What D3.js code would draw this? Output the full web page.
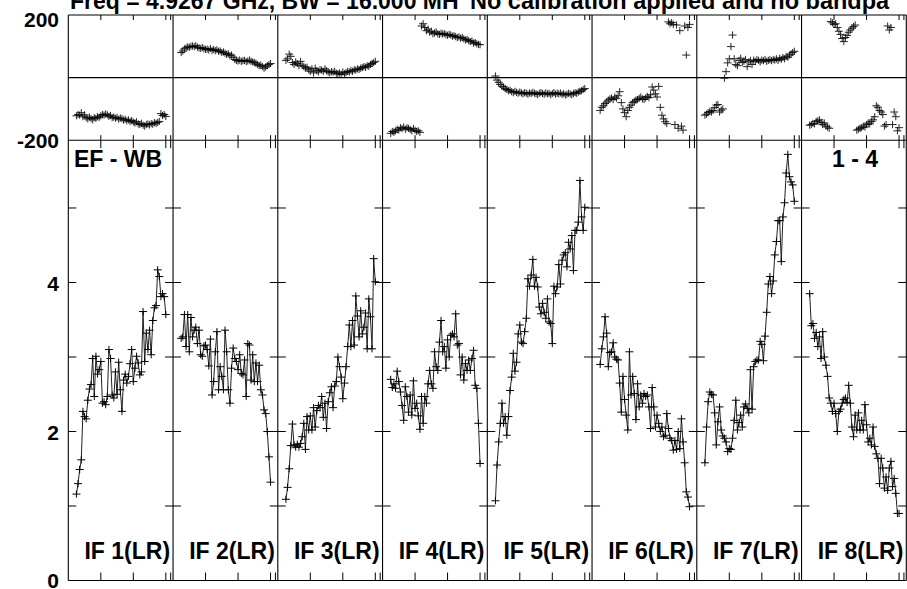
<!DOCTYPE html>
<html><head><meta charset="utf-8">
<script src="https://cdn.jsdelivr.net/npm/d3@7"></script>
<style>
body{margin:0;background:#fff;}
svg{display:block;}
text{font-family:"Liberation Sans",Arial,Helvetica,sans-serif;font-weight:bold;fill:#000;}
</style>
</head><body>
<svg id="chart" width="907" height="589"></svg>
<script>
// ---------------- data ----------------
const ifLabels = ["IF 1(LR)","IF 2(LR)","IF 3(LR)","IF 4(LR)","IF 5(LR)","IF 6(LR)","IF 7(LR)","IF 8(LR)"];
const channels = [5,6,7,8,9,10,11,12,13,14,15,16,17,18,19,20,21,22,23,24,25,26,27,28,29,30,31,32,33,34,35,36,37,38,39,40,41,42,43,44,45,46,47,48,49,50,51,52,53,54,55,56,57,58,59,60];

const amp1 = [1.16,1.30,1.49,1.62,2.27,2.20,2.17,2.42,2.57,2.63,2.98,2.47,3.01,2.77,2.83,2.94,2.38,2.40,2.36,2.47,3.10,2.98,2.49,2.45,2.80,2.50,2.93,2.56,2.27,2.69,2.77,2.65,2.74,2.91,3.10,2.67,2.85,3.01,2.92,2.76,2.80,3.61,2.94,3.32,3.10,3.36,3.03,3.49,3.66,3.69,4.17,4.08,3.81,3.85,3.81,3.57];
const amp2 = [3.25,3.27,3.57,3.14,3.57,3.07,3.53,3.27,3.36,3.40,3.18,3.36,3.03,3.01,3.15,3.16,3.10,2.88,3.24,2.49,2.67,3.07,3.34,2.56,2.87,2.74,2.56,3.36,3.07,2.56,2.38,2.85,3.12,2.98,2.94,2.83,3.03,2.78,2.76,2.96,2.47,3.18,3.16,2.69,3.03,2.67,2.92,2.67,2.89,2.56,2.49,2.29,2.24,2.00,1.66,1.32];
const amp3 = [1.09,1.25,1.50,1.81,2.10,1.82,1.79,1.83,1.79,1.84,1.93,2.11,1.76,2.20,2.02,2.21,2.02,2.32,2.06,2.28,2.35,2.32,2.47,2.19,2.38,2.04,2.40,2.52,2.60,2.32,2.61,2.67,3.00,2.87,2.73,2.44,2.65,2.87,3.14,3.43,3.14,3.49,3.16,3.82,3.55,3.27,3.62,3.31,3.40,3.59,3.11,3.78,3.54,3.11,4.32,4.01];
const amp4 = [2.70,2.59,2.64,2.58,2.81,2.67,2.53,2.35,2.15,2.60,2.47,2.26,2.49,2.22,2.68,2.31,2.38,2.21,2.03,2.47,2.11,2.47,2.38,2.64,2.82,2.64,2.58,3.07,2.87,2.82,3.20,3.49,3.07,3.14,2.85,3.23,3.00,3.29,3.31,3.27,3.58,3.16,3.18,2.76,3.00,2.69,2.91,2.82,2.96,2.82,2.98,3.09,2.62,2.58,2.11,1.57];
const amp5 = [1.07,1.55,1.86,2.11,2.38,2.11,2.20,1.95,2.20,2.55,2.73,3.05,2.81,2.93,3.31,3.43,3.20,3.18,3.34,3.52,4.05,3.95,4.10,4.31,3.95,4.07,3.94,3.67,3.58,3.72,3.60,3.52,3.78,3.47,3.45,3.18,3.95,3.85,3.94,4.24,3.98,4.30,4.37,4.40,4.21,4.54,4.45,4.63,4.16,4.70,4.70,4.81,5.37,4.88,4.70,5.01];
const amp6 = [2.90,3.11,3.27,3.54,3.32,2.87,3.06,3.07,3.19,3.00,2.97,2.96,2.65,2.26,2.74,2.43,2.22,2.02,3.07,2.49,2.74,2.51,2.16,2.64,2.33,2.49,2.38,2.51,2.47,2.49,2.33,2.04,2.59,2.33,2.06,2.22,2.11,2.00,2.06,1.93,1.95,2.24,2.04,1.91,1.88,1.75,1.88,1.76,2.00,1.77,2.17,1.86,1.58,1.19,1.12,0.99];
const amp7 = [1.58,2.06,2.40,2.53,2.50,2.49,2.25,1.82,2.13,2.33,2.02,1.94,1.91,1.86,1.73,1.77,1.76,1.91,2.15,2.42,2.02,2.12,2.22,2.06,2.33,2.37,2.31,2.25,2.83,2.30,2.87,2.94,2.96,2.96,3.21,3.17,2.95,3.28,3.60,3.98,4.08,3.85,4.02,4.37,4.55,4.83,4.83,4.28,4.88,5.07,5.47,5.72,5.42,5.35,5.31,5.09];
const amp8 = [3.85,3.42,3.45,3.25,3.33,3.14,3.27,2.98,3.34,3.00,2.89,2.74,2.45,2.38,2.27,2.38,2.24,2.00,2.27,2.30,2.38,2.43,2.45,2.39,2.62,2.38,2.06,1.93,2.22,2.02,2.25,2.02,2.15,2.02,2.36,2.09,1.86,1.91,1.82,2.06,1.80,1.70,1.64,1.30,1.64,1.51,1.24,1.39,1.21,1.51,1.60,1.26,1.37,1.17,0.90,0.90];

const phase1 = [-122,-118,-120,-112,-125,-119,-128,-132,-126,-131,-135,-128,-130,-125,-127,-122,-118,-120,-116,-119,-124,-121,-128,-126,-130,-127,-133,-129,-131,-136,-133,-138,-135,-140,-137,-142,-145,-141,-148,-150,-146,-152,-155,-150,-148,-151,-147,-149,-144,-146,-143,-140,-115,-121,-118,-124];
const phase2 = [80,85,92,95,98,97,100,101,99,102,97,95,93,96,92,90,91,88,93,87,90,86,89,84,85,80,82,78,74,76,70,72,65,58,55,53,56,52,54,55,51,53,56,52,50,48,46,42,38,40,35,30,34,38,42,45];
const phase3 = [55,60,75,68,48,42,50,45,38,52,40,35,30,33,25,20,28,15,30,22,18,25,24,20,28,22,18,15,19,17,20,14,12,15,10,18,12,16,20,18,22,20,25,24,28,26,30,32,35,33,38,36,42,45,48,52];
const phase4 = [-178,-172,-175,-170,-165,-168,-160,-163,-158,-165,-160,-162,-166,-170,-163,-168,-172,-170,-175,165,172,160,150,155,145,148,140,143,146,140,138,142,139,141,137,135,138,136,132,134,131,128,130,126,128,124,120,122,118,115,117,110,112,108,106,105];
const phase5 = [5,-8,-15,-22,-28,-30,-35,-38,-42,-40,-45,-48,-44,-47,-50,-46,-49,-52,-48,-50,-53,-49,-51,-47,-50,-52,-54,-50,-48,-51,-53,-49,-52,-50,-55,-51,-48,-53,-50,-52,-49,-54,-51,-56,-53,-50,-52,-55,-51,-48,-50,-46,-44,-42,-38,-35];
const phase6 = [-105,-95,-90,-83,-78,-72,-68,-65,-70,-62,-66,-58,-45,-80,-100,-112,-125,-105,-95,-88,-80,-76,-72,-70,-66,-62,-68,-70,-65,-60,-64,-55,-30,-40,-52,-62,-28,-95,-120,-132,-141,-147,178,172,176,170,-150,168,-162,150,-155,-168,165,72,160,170];
const phase7 = [-120,-117,-112,-108,-110,-105,-96,-88,-86,-110,-104,-100,-2,19,47,60,99,136,60,42,38,55,62,48,52,58,35,50,55,42,56,52,58,55,50,56,54,58,52,55,57,54,58,56,60,55,62,58,64,60,68,65,72,75,80,84];
const phase8 = [-152,-150,-146,-148,-140,-138,-135,-143,-150,-145,-155,-158,-162,179,175,170,172,160,148,138,125,115,128,135,145,152,158,163,168,-168,-165,-162,-160,-155,-158,-150,-145,-148,-140,-135,-125,-90,-95,-105,-110,-118,-155,-150,165,152,160,-150,-110,-125,-170,-160];

const chanTicks = [20,40,60,63];
const ampTicks = [1,2,3,4,5];
const ampLabelTicks = [0,2,4];
const phaseLabelTicks = [-200,200];
const titleLeft = "Freq = 4.9267 GHz, BW = 16.000 MH";
const titleRight = "No calibration applied and no bandpa";
const sourceLabel = "EF - WB";
const timeLabel = "1 - 4";

const ampSeries = [amp1,amp2,amp3,amp4,amp5,amp6,amp7,amp8];
const phaseSeries = [phase1,phase2,phase3,phase4,phase5,phase6,phase7,phase8];

// ---------------- layout ----------------
const svg = d3.select("#chart");
const L = 68.3, R = 906.3, T = 15, M = 140.2, B = 580.5;

const panelX = d3.scaleBand().domain(d3.range(ifLabels.length)).range([L, R]).paddingInner(0).paddingOuter(0);
const pw = panelX.bandwidth();
const x = d3.scaleLinear().domain([0, 64.46]).range([0, pw]);
const yPh = d3.scaleLinear().domain([-200, 200]).range([M, T]);
const yAmp = d3.scaleLinear().domain([0, 5.91]).range([B, M]);

const plus = "M-4,0H4M0,-3.6V3.6";

// horizontal frame lines
[T, yPh(0), M, B].forEach(yv => {
  svg.append("line").attr("x1", L).attr("x2", R).attr("y1", yv).attr("y2", yv)
    .attr("stroke", "#000").attr("stroke-width", 1.1);
});
// vertical frame lines
d3.range(ifLabels.length + 1).forEach(i => {
  const xv = L + i * pw;
  svg.append("line").attr("x1", xv).attr("x2", xv).attr("y1", T).attr("y2", B)
    .attr("stroke", "#000").attr("stroke-width", 1.1);
});

ifLabels.forEach((lab, i) => {
  const g = svg.append("g").attr("transform", `translate(${panelX(i)},0)`);
  // x ticks
  chanTicks.forEach(c => {
    const xv = x(c);
    g.append("line").attr("x1", xv).attr("x2", xv).attr("y1", T).attr("y2", T + 5).attr("stroke", "#000");
    g.append("line").attr("x1", xv).attr("x2", xv).attr("y1", M - 5).attr("y2", M + 8).attr("stroke", "#000");
    g.append("line").attr("x1", xv).attr("x2", xv).attr("y1", B - 8).attr("y2", B).attr("stroke", "#000");
  });
  // amplitude y ticks on both sides
  ampTicks.forEach(v => {
    const yv = yAmp(v);
    g.append("line").attr("x1", 0).attr("x2", 8).attr("y1", yv).attr("y2", yv).attr("stroke", "#000");
    g.append("line").attr("x1", pw - 8).attr("x2", pw).attr("y1", yv).attr("y2", yv).attr("stroke", "#000");
  });

  const amp = ampSeries[i].map((v, k) => ({c: channels[k], v}));
  const ph = phaseSeries[i].map((v, k) => ({c: channels[k], v}));

  // amplitude line
  g.append("path").datum(amp)
    .attr("d", d3.line().x(d => x(d.c)).y(d => yAmp(d.v)))
    .attr("fill", "none").attr("stroke", "#222").attr("stroke-width", 1);
  g.selectAll(".ap").data(amp).enter().append("path")
    .attr("transform", d => `translate(${x(d.c)},${yAmp(d.v)})`)
    .attr("d", plus).attr("stroke", "#000").attr("stroke-width", 1);
  // phase points
  g.selectAll(".pp").data(ph).enter().append("path")
    .attr("transform", d => `translate(${x(d.c)},${yPh(d.v)})`)
    .attr("d", plus).attr("stroke", "#000").attr("stroke-width", 1).attr("opacity", 0.85);

  // IF label
  g.append("text").attr("x", pw - 3).attr("y", 559).attr("text-anchor", "end")
    .attr("font-size", 23).text(lab);
});

// y-axis labels
phaseLabelTicks.forEach(v => {
  svg.append("text").attr("x", 59).attr("y", yPh(v) + (v > 0 ? 12 : 7.5))
    .attr("text-anchor", "end").attr("font-size", 21).text(v);
});
ampLabelTicks.forEach(v => {
  svg.append("text").attr("x", 59).attr("y", v === 0 ? 587.5 : yAmp(v) + 8.5)
    .attr("text-anchor", "end").attr("font-size", 21).text(v);
});

// title & annotations
svg.append("text").attr("x", 70).attr("y", 8.5).attr("font-size", 23).text(titleLeft);
svg.append("text").attr("x", 470).attr("y", 8.5).attr("font-size", 23.5).text(titleRight);
svg.append("text").attr("x", 74).attr("y", 167).attr("font-size", 23).text(sourceLabel);
svg.append("text").attr("x", 878).attr("y", 167).attr("text-anchor", "end").attr("font-size", 23).text(timeLabel);
</script>
</body></html>
